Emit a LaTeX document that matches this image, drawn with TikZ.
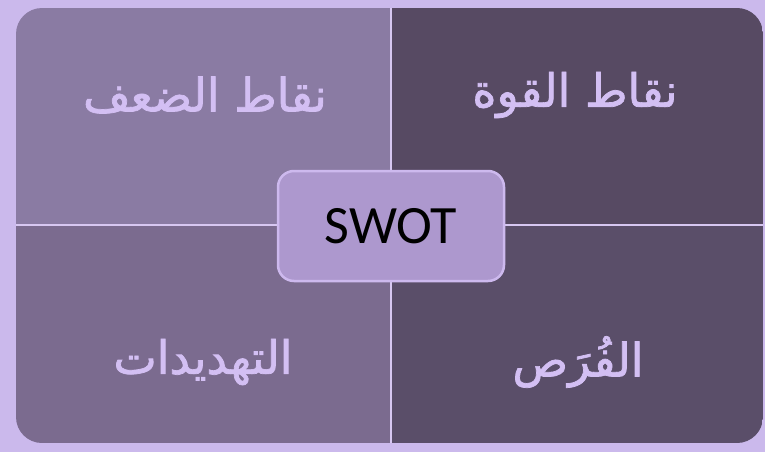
\documentclass[tikz,border=0pt]{standalone}
\usepackage{fontspec}
\setmainfont{Carlito}
\newfontfamily\arabicfont[Script=Arabic,FakeBold=1.6]{DejaVu Sans}
\TeXXeTstate=1
\definecolor{bgpurple}{HTML}{CBB9EC}
\definecolor{weakfill}{HTML}{8A7BA3}
\definecolor{strfill}{HTML}{574A63}
\definecolor{thrfill}{HTML}{7B6B8F}
\definecolor{oppfill}{HTML}{5A4E69}
\definecolor{labpurple}{HTML}{D3BFF3}
\definecolor{swotfill}{HTML}{AD98CE}
\definecolor{swotline}{HTML}{CDB9EE}
\tikzset{
  quadlab/.style={text=labpurple,font=\arabicfont\fontsize{46}{52}\selectfont},
  divider/.style={draw=swotline!80!white,line width=2.5pt},
  swotbox/.style={fill=swotfill,draw=swotline,line width=2.5pt,rounded corners=16pt,
    minimum width=226pt,minimum height=110pt,font=\fontsize{54}{60}\selectfont}
}
\begin{document}
\begin{tikzpicture}[x=1pt,y=-1pt]
\fill[bgpurple] (0,0) rectangle (765,452);

% four quarters inside the rounded panel
\begin{scope}
\clip[rounded corners=26pt] (16,8) rectangle (763,443);
\fill[weakfill] (16,8) rectangle (391,225);
\fill[strfill] (391,8) rectangle (763,225);
\fill[thrfill] (16,225) rectangle (391,443);
\fill[oppfill] (391,225) rectangle (763,443);
\end{scope}
\draw[divider] (391,8) -- (391,443);
\draw[divider] (16,225) -- (763,225);

\node[quadlab] (weak) at (205,95) {\beginR نقاط الضعف\endR};
\node[quadlab] (str) at (575,95) {\beginR نقاط القوة\endR};
\node[quadlab] (thr) at (203,362) {\beginR التهديدات\endR};
\node[quadlab] (opp) at (578,362) {\beginR الفُرَص\endR};

\node[swotbox] (swot) at (391,226) {SWOT};
\end{tikzpicture}
\end{document}
